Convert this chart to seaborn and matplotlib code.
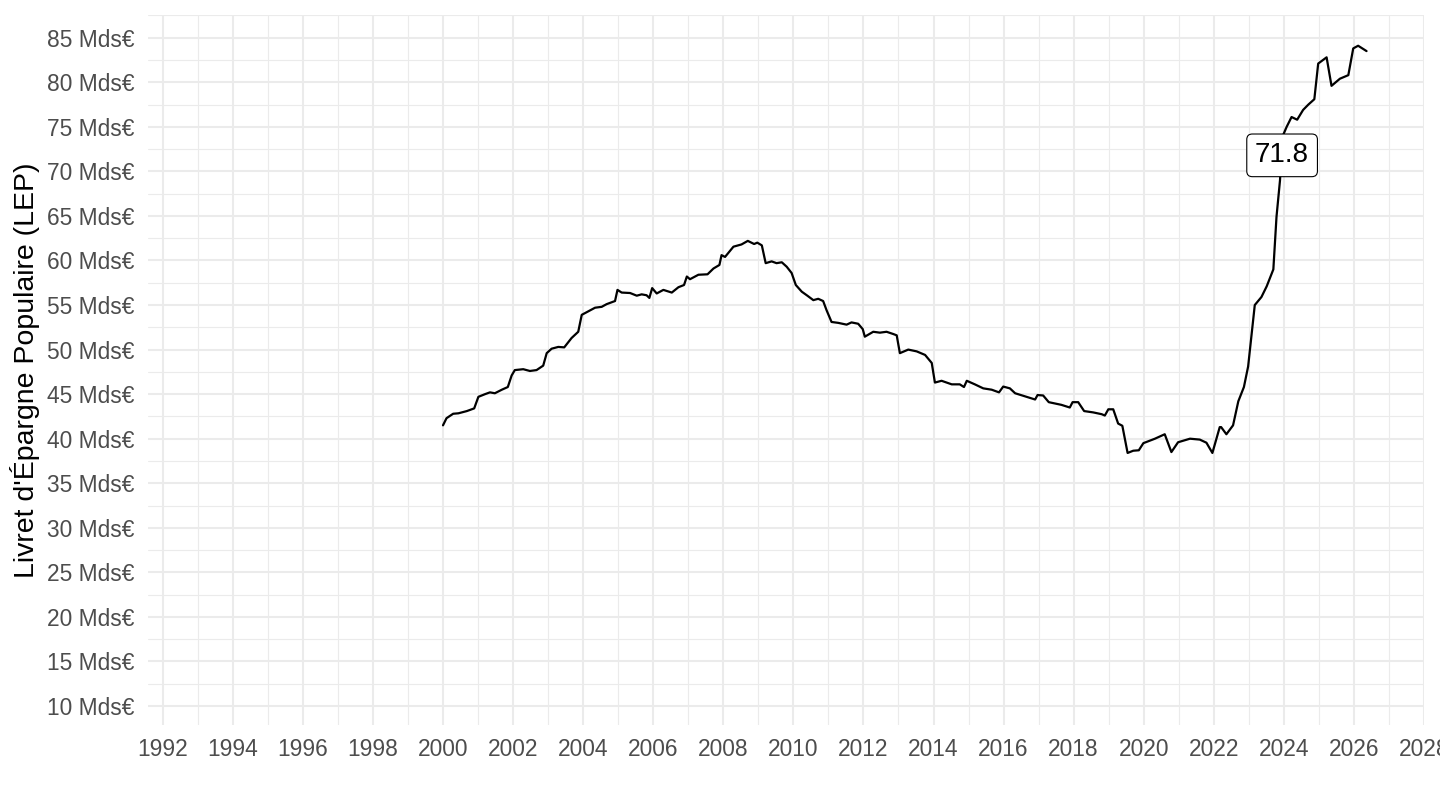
import matplotlib
matplotlib.use("Agg")
import matplotlib.pyplot as plt
import seaborn as sns
import pandas as pd
import numpy as np

# encours du LEP (annee decimale, Mds EUR)
annee = [
    2000.00, 2000.10, 2000.29, 2000.44, 2000.68, 2000.89,
    2001.01, 2001.20, 2001.34, 2001.48, 2001.68, 2001.85, 2001.96,
    2002.05, 2002.29, 2002.48, 2002.67, 2002.86, 2002.96,
    2003.10, 2003.29, 2003.46, 2003.67, 2003.86, 2003.96,
    2004.15, 2004.34, 2004.53, 2004.67, 2004.91, 2004.98,
    2005.10, 2005.34, 2005.53, 2005.67, 2005.81, 2005.89, 2005.97,
    2006.10, 2006.29, 2006.53, 2006.72, 2006.88, 2006.96,
    2007.05, 2007.29, 2007.55, 2007.72, 2007.89, 2007.95,
    2008.05, 2008.29, 2008.52, 2008.70, 2008.88, 2008.97,
    2009.10, 2009.21, 2009.38, 2009.52, 2009.67, 2009.81, 2009.95,
    2010.07, 2010.24, 2010.40, 2010.57, 2010.71, 2010.85, 2010.95,
    2011.09, 2011.28, 2011.52, 2011.66, 2011.85, 2011.98,
    2012.04, 2012.28, 2012.47, 2012.66, 2012.85, 2012.95,
    2013.04, 2013.28, 2013.52, 2013.76, 2013.95,
    2014.04, 2014.23, 2014.52, 2014.75, 2014.87, 2014.95,
    2015.18, 2015.42, 2015.66, 2015.87, 2015.99,
    2016.18, 2016.33, 2016.66, 2016.90, 2016.97,
    2017.13, 2017.29, 2017.65, 2017.89, 2017.97,
    2018.13, 2018.30, 2018.56, 2018.80, 2018.89, 2018.99,
    2019.13, 2019.27, 2019.39, 2019.54, 2019.70, 2019.86, 2019.99,
    2020.32, 2020.60, 2020.79, 2020.98,
    2021.32, 2021.60, 2021.79, 2021.96,
    2022.17, 2022.21, 2022.36, 2022.55, 2022.70, 2022.86, 2022.98,
    2023.17, 2023.36, 2023.51, 2023.70, 2023.79, 2023.89, 2023.93, 2023.96,
    2024.08, 2024.22, 2024.38, 2024.55, 2024.70, 2024.87, 2024.98,
    2025.22, 2025.36, 2025.60, 2025.84, 2025.98,
    2026.12, 2026.36,
]
encours = [
    41.5, 42.3, 42.8, 42.85, 43.1, 43.4,
    44.7, 45.0, 45.2, 45.1, 45.5, 45.8, 47.1,
    47.7, 47.8, 47.6, 47.7, 48.2, 49.6,
    50.1, 50.3, 50.25, 51.3, 52.0, 53.9,
    54.3, 54.7, 54.8, 55.1, 55.45, 56.7,
    56.4, 56.35, 56.05, 56.2, 56.1, 55.8, 56.9,
    56.3, 56.7, 56.4, 57.0, 57.25, 58.2,
    57.9, 58.4, 58.45, 59.1, 59.5, 60.6,
    60.4, 61.55, 61.8, 62.2, 61.85, 62.0,
    61.7, 59.7, 59.9, 59.7, 59.8, 59.3, 58.6,
    57.25, 56.5, 56.05, 55.55, 55.7, 55.45, 54.4,
    53.1, 53.0, 52.8, 53.05, 52.9, 52.3,
    51.45, 52.0, 51.9, 52.0, 51.75, 51.6,
    49.6, 50.0, 49.8, 49.4, 48.5,
    46.3, 46.5, 46.1, 46.1, 45.8, 46.5,
    46.1, 45.65, 45.5, 45.2, 45.85,
    45.65, 45.1, 44.7, 44.4, 44.9,
    44.85, 44.1, 43.8, 43.5, 44.1,
    44.1, 43.1, 42.95, 42.75, 42.6, 43.3,
    43.3, 41.7, 41.45, 38.4, 38.65, 38.7, 39.5,
    40.0, 40.5, 38.5, 39.6,
    40.0, 39.9, 39.55, 38.4,
    41.3, 41.3, 40.5, 41.5, 44.2, 45.8, 48.1,
    55.0, 55.9, 57.1, 59.0, 64.9, 69.0, 71.8, 73.9,
    75.0, 76.1, 75.8, 76.9, 77.5, 78.1, 82.1,
    82.8, 79.6, 80.4, 80.8, 83.8,
    84.1, 83.5,
]
valeur_etiquette = 71.8

y_ticks = list(range(10, 90, 5))
x_ticks = list(range(1992, 2030, 2))

df = pd.DataFrame({"annee": annee, "encours": encours})

sns.set_theme(style="white")
plt.rcParams["font.family"] = ["Liberation Sans", "DejaVu Sans"]

fig = plt.figure(figsize=(14.4, 8.1), dpi=100)
ax = fig.add_axes([148 / 1440, 1 - 725 / 810, (1424 - 148) / 1440, (725 - 15) / 810])

sns.lineplot(data=df, x="annee", y="encours", color="black", linewidth=1.6,
             estimator=None, sort=False, ax=ax)

# etiquette sur le point
pt = df[df["encours"] == valeur_etiquette].iloc[0]
ax.text(pt["annee"] + 0.02, pt["encours"], f"{valeur_etiquette:.1f}", ha="center", va="center",
        fontsize=20, color="black", zorder=5,
        bbox=dict(boxstyle="round,pad=0.3,rounding_size=0.2", fc="white", ec="black", lw=0.8))

ax.set_xlim(1991.58, 2028.0)
ax.set_ylim(7.87, 87.55)

ax.set_xticks(x_ticks)
ax.set_xticklabels([str(x) for x in x_ticks])
ax.set_xticks(np.arange(1993, 2028, 2), minor=True)
ax.set_yticks(y_ticks)
ax.set_yticklabels([f"{y} Mds€" for y in y_ticks])
ax.set_yticks(np.arange(12.5, 90, 5), minor=True)

ax.grid(which="major", color="#EBEBEB", linewidth=1.5)
ax.grid(which="minor", color="#EBEBEB", linewidth=0.8)
ax.set_axisbelow(True)
for s in ax.spines.values():
    s.set_visible(False)

ax.tick_params(axis="both", which="both", length=0, labelsize=16.4, colors="#4D4D4D")
ax.tick_params(axis="y", pad=10)
ax.tick_params(axis="x", pad=9)

ax.set_xlabel("")
ax.set_ylabel("Livret d'Épargne Populaire (LEP)", fontsize=20.5, color="black", labelpad=5)

fig.savefig("out.png", dpi=100, facecolor="white")
